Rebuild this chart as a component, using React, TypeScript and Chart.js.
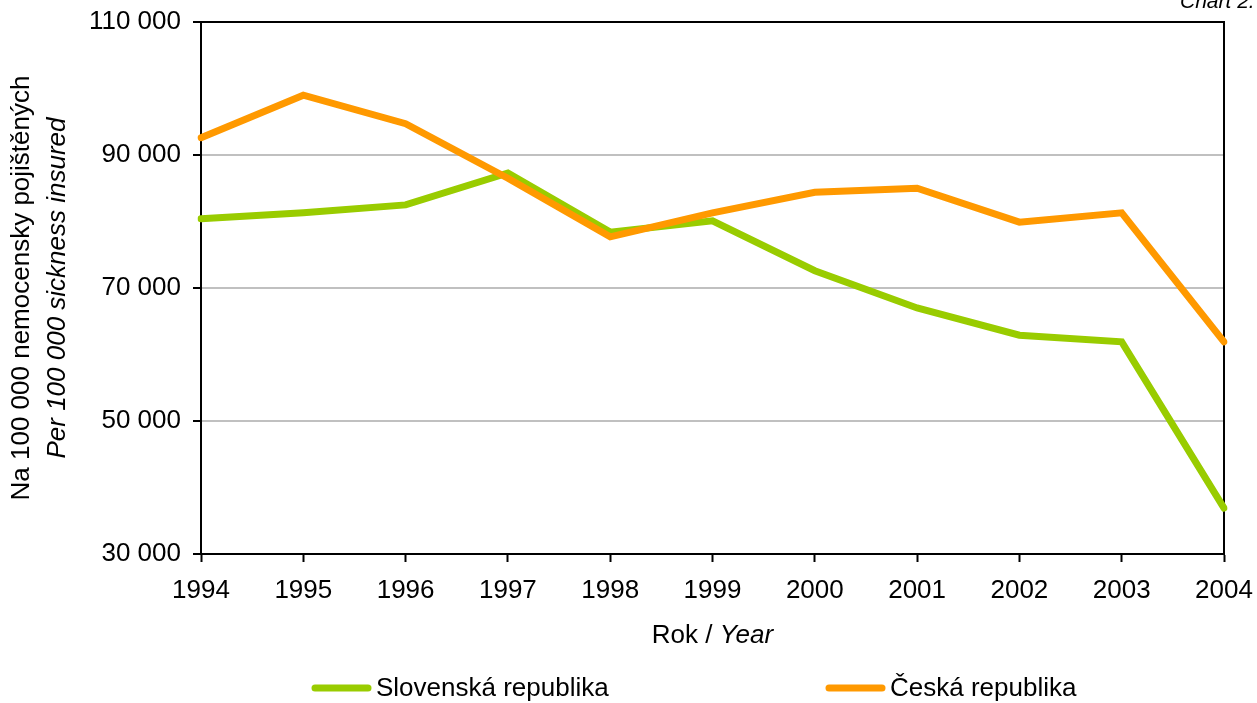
import React, { useEffect, useRef } from "react";
import { Chart, registerables } from "chart.js";

Chart.register(...registerables);

const years = ["1994", "1995", "1996", "1997", "1998", "1999", "2000", "2001", "2002", "2003", "2004"];
const slovakValues = [80400, 81300, 82500, 87300, 78400, 80100, 72600, 67000, 62900, 61900, 36900];
const czechValues = [92600, 99000, 94700, 86500, 77700, 81300, 84400, 85000, 79900, 81300, 61900];
const seriesNames = ["Slovenská republika", "Česká republika"];
const seriesColors = ["#99CC00", "#FF9900"];
const yMin = 30000;
const yMax = 110000;
const yStep = 20000;
const yTitleLine1 = "Na 100 000 nemocensky pojištěných";
const yTitleLine2 = "Per 100 000 sickness insured";
const xTitleNormal = "Rok / ";
const xTitleItalic = "Year";
const cornerLabel = "Chart 2.";

const FONT = '"Liberation Sans", Arial, sans-serif';
const FS = 26;

function fmt(v: number): string {
  return String(v).replace(/\B(?=(\d{3})+(?!\d))/g, " ");
}

const decorPlugin = {
  id: "decor",
  beforeDatasetsDraw(chart: any) {
    const { ctx, chartArea } = chart;
    ctx.save();
    ctx.strokeStyle = "#000";
    ctx.lineWidth = 2;
    ctx.beginPath();
    ctx.moveTo(chartArea.left, chartArea.top);
    ctx.lineTo(chartArea.right, chartArea.top);
    ctx.lineTo(chartArea.right, chartArea.bottom);
    ctx.stroke();
    ctx.restore();
  },
  afterDraw(chart: any) {
    const { ctx, chartArea } = chart;
    ctx.save();
    ctx.fillStyle = "#000";
    const cy = (chartArea.top + chartArea.bottom) / 2;
    ctx.save();
    ctx.translate(22, cy);
    ctx.rotate(-Math.PI / 2);
    ctx.textAlign = "center";
    ctx.textBaseline = "middle";
    ctx.font = `${FS}px ${FONT}`;
    ctx.fillText(yTitleLine1, 0, 0);
    ctx.font = `italic ${FS}px ${FONT}`;
    ctx.fillText(yTitleLine2, 0, 36);
    ctx.restore();
    ctx.textBaseline = "middle";
    ctx.textAlign = "left";
    ctx.font = `${FS}px ${FONT}`;
    const w1 = ctx.measureText(xTitleNormal).width;
    ctx.font = `italic ${FS}px ${FONT}`;
    const w2 = ctx.measureText(xTitleItalic).width;
    const cx = (chartArea.left + chartArea.right) / 2;
    const sx = cx - (w1 + w2) / 2;
    ctx.font = `${FS}px ${FONT}`;
    ctx.fillText(xTitleNormal, sx, 636);
    ctx.font = `italic ${FS}px ${FONT}`;
    ctx.fillText(xTitleItalic, sx + w1, 636);
    const legendItems = [
      { x: 312, name: seriesNames[0], color: seriesColors[0] },
      { x: 826, name: seriesNames[1], color: seriesColors[1] },
    ];
    const ly = 688;
    legendItems.forEach((it) => {
      ctx.strokeStyle = it.color;
      ctx.lineWidth = 7;
      ctx.lineCap = "round";
      ctx.beginPath();
      ctx.moveTo(it.x + 3, ly);
      ctx.lineTo(it.x + 56, ly);
      ctx.stroke();
      ctx.fillStyle = "#000";
      ctx.font = `${FS}px ${FONT}`;
      ctx.textBaseline = "middle";
      ctx.fillText(it.name, it.x + 64, ly + 1);
    });
    ctx.font = `italic 21px ${FONT}`;
    ctx.textBaseline = "alphabetic";
    ctx.fillStyle = "#000";
    ctx.fillText(cornerLabel, 1180, 8);
    ctx.restore();
  },
};

export default function App() {
  const ref = useRef<HTMLCanvasElement | null>(null);
  useEffect(() => {
    document.body.style.margin = "0";
    const canvas = ref.current;
    if (!canvas) return;
    const chart = new Chart(canvas, {
      type: "line",
      data: {
        labels: years,
        datasets: [
          {
            label: seriesNames[0],
            data: slovakValues,
            borderColor: seriesColors[0],
            backgroundColor: seriesColors[0],
            borderWidth: 7,
            pointRadius: 0,
            tension: 0,
            borderCapStyle: "round",
            order: 2,
          },
          {
            label: seriesNames[1],
            data: czechValues,
            borderColor: seriesColors[1],
            backgroundColor: seriesColors[1],
            borderWidth: 7,
            pointRadius: 0,
            tension: 0,
            borderCapStyle: "round",
            order: 1,
          },
        ],
      },
      options: {
        animation: false,
        responsive: false,
        maintainAspectRatio: false,
        layout: { padding: { left: 0, top: 22, right: 33, bottom: 0 } },
        plugins: { legend: { display: false }, tooltip: { enabled: false } },
        scales: {
          x: {
            offset: false,
            grid: { color: "transparent", tickColor: "#000", tickLength: 8, tickWidth: 2, drawOnChartArea: false },
            border: { color: "#000", width: 2 },
            ticks: { color: "#000", font: { family: FONT, size: FS }, padding: 13, maxRotation: 0, autoSkip: false },
            afterFit: (s: any) => {
              s.height = 703 - 554;
              s.paddingLeft = 0;
              s.paddingRight = 0;
            },
          },
          y: {
            min: yMin,
            max: yMax,
            grid: {
              color: (c: any) => (c.tick && (c.tick.value === yMin || c.tick.value === yMax) ? "transparent" : "#c0c0c0"),
              lineWidth: 2,
              tickColor: "#000",
              tickLength: 8,
              tickWidth: 2,
            },
            border: { color: "#000", width: 2 },
            ticks: {
              stepSize: yStep,
              color: "#000",
              font: { family: FONT, size: FS },
              padding: 12,
              callback: (v: any) => fmt(Number(v)),
            },
            afterFit: (s: any) => {
              s.width = 201;
              s.paddingTop = 0;
              s.paddingBottom = 0;
            },
          },
        },
      },
      plugins: [decorPlugin],
    });
    return () => chart.destroy();
  }, []);
  return (
    <div style={{ position: "absolute", left: 0, top: 0, width: 1257, height: 703, background: "#fff" }}>
      <canvas ref={ref} width={1257} height={703} style={{ width: 1257, height: 703 }} />
    </div>
  );
}
